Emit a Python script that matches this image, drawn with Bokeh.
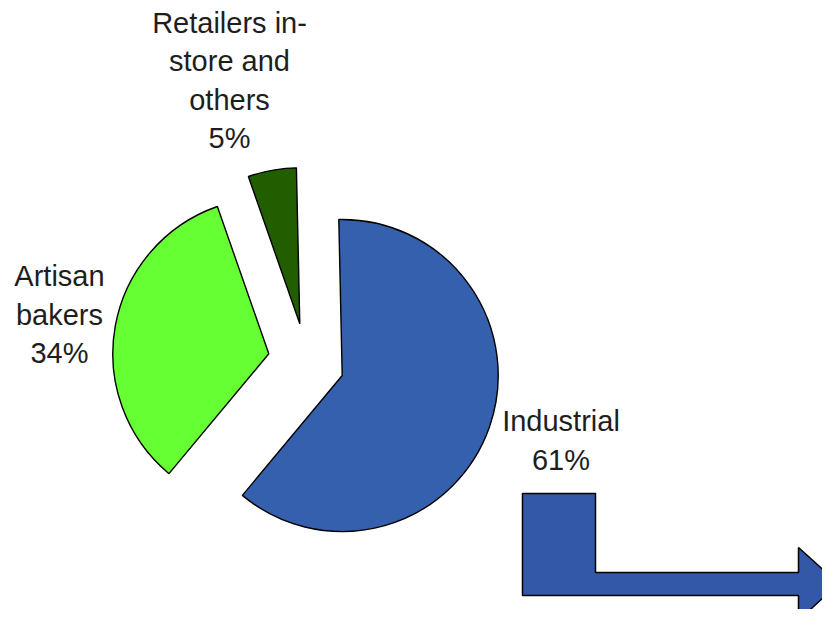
import math
from bokeh.plotting import figure
from bokeh.models import Range1d
from bokeh.embed import file_html
from bokeh.resources import INLINE
from bokeh.core.properties import value

# ---- data ----
categories = ["Industrial", "Artisan bakers", "Retailers in-store and others"]
shares = [61.4, 33.6, 5.0]
pct_labels = ["61%", "34%", "5%"]
label_lines = [["Industrial"], ["Artisan", "bakers"], ["Retailers in-", "store and", "others"]]
colors = ["#3560AD", "#66FF33", "#225E00"]

# ---- layout / style ----
W, H = 822, 609
def sy(y):  # screen y (from top) -> data y
    return H - y

p = figure(width=W, height=H, x_range=Range1d(0, W), y_range=Range1d(0, H),
           output_backend="svg", toolbar_location=None,
           x_axis_type=None, y_axis_type=None, min_border=0)
p.outline_line_color = None
p.background_fill_color = "white"
p.border_fill_color = "white"

center = (341.7, 375.0)          # screen coords of pie centre
radius = 156
start_deg = -1.25                # clockwise from 12 o'clock
explode = [(0, 0), (-73.4, -21.7), (-42.4, -51.7)]   # per-slice offset (px)

total = sum(shares)
theta = start_deg
for i, s in enumerate(shares):
    span = 360.0 * s / total
    t1, t2 = theta, theta + span
    theta = t2
    a_start = math.radians(90 - t2)
    a_end = math.radians(90 - t1)
    cx = center[0] + explode[i][0]
    cy = center[1] + explode[i][1]
    p.wedge(x=[cx], y=[sy(cy)], radius=radius, start_angle=a_start, end_angle=a_end,
            fill_color=colors[i], line_color="black", line_width=1.4)

# ---- labels ----
label_pos = [(560.5, 420.5), (59.0, 275.5), (229.0, 22.2)]   # centre x, first line anchor
line_gap = 38.5
tx, ty, tt = [], [], []
for i, lines in enumerate(label_lines):
    allx = lines + [pct_labels[i]]
    for k, ln in enumerate(allx):
        tx.append(label_pos[i][0])
        ty.append(sy(label_pos[i][1] + k * line_gap))
        tt.append(ln)
p.text(x=tx, y=ty, text=tt, text_align="center", text_baseline="alphabetic",
       text_font=value("Liberation Sans"), text_font_size="29px", text_color="#1E1E1E")

# ---- decorative bent arrow ----
arrow_x = [522, 595, 595, 798, 798, 838, 798, 798, 522]
arrow_y = [493, 493, 572, 572, 547, 583, 620, 595, 595]
p.patch(x=arrow_x, y=[sy(v) for v in arrow_y], fill_color="#3258A7",
        line_color="black", line_width=1.5)

open("out.html", "w").write(file_html(p, INLINE))
